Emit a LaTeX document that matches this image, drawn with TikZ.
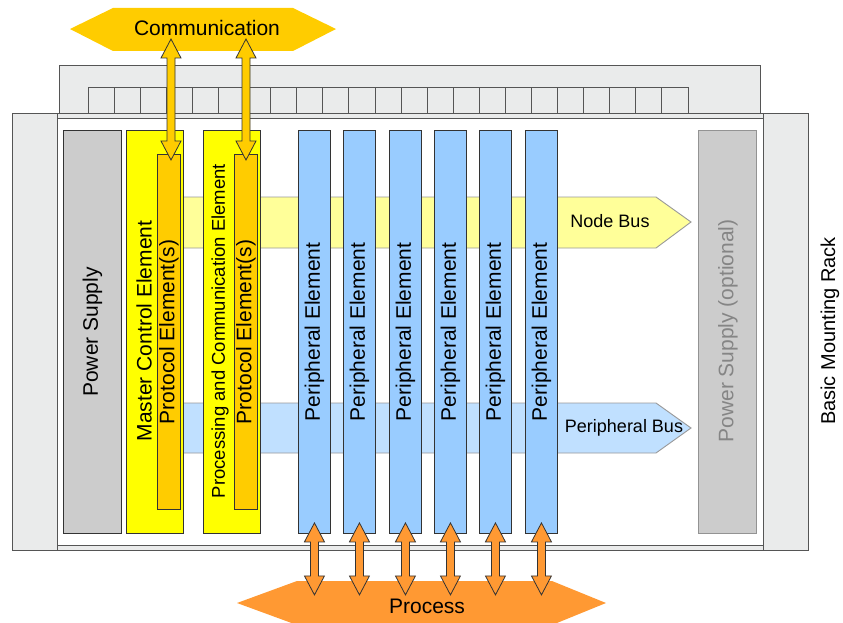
\documentclass[tikz,border=0pt]{standalone}
\usepackage{fontspec}
\setmainfont{Liberation Sans}
\usetikzlibrary{calc}
\definecolor{rackgray}{HTML}{EAEBEB}
\definecolor{psgray}{HTML}{CCCCCC}
\definecolor{ctrlyellow}{HTML}{FFFF00}
\definecolor{protoorange}{HTML}{FFCC00}
\definecolor{nodebusc}{HTML}{FFFF99}
\definecolor{peribusc}{HTML}{C0E0FF}
\definecolor{perielemc}{HTML}{99CCFF}
\definecolor{procorange}{HTML}{FF9933}
\definecolor{edgec}{HTML}{333333}
\definecolor{rackedge}{HTML}{555555}
\definecolor{optgray}{HTML}{858585}
\newcommand\blockarrow[3]{%
  \draw[#3] (#1) -- ($(#1)+(10,19)$) -- ($(#1)+(4,19)$) -- ($(#2)+(4,-19)$) -- ($(#2)+(10,-19)$) -- (#2)
    -- ($(#2)+(-10,-19)$) -- ($(#2)+(-4,-19)$) -- ($(#1)+(-4,19)$) -- ($(#1)+(-10,19)$) -- cycle;}
\begin{document}
\begin{tikzpicture}[x=1pt,y=-1pt,
  rackpart/.style={fill=rackgray,draw=rackedge,line width=0.9pt},
  elem/.style={draw=edgec,line width=0.9pt,inner sep=0pt,anchor=north west},
  vtext/.style={rotate=90,inner sep=0pt,font=\fontsize{21}{24}\selectfont},
  bustext/.style={inner sep=0pt,font=\fontsize{18}{21}\selectfont},
  bigtext/.style={inner sep=0pt,font=\fontsize{21}{24}\selectfont},
  comarrow/.style={fill=protoorange,draw=edgec,line width=0.8pt},
  procarrow/.style={fill=procorange,draw=edgec,line width=0.8pt}]
\useasboundingbox (0,0) rectangle (843,623);
\clip (0,0) rectangle (843,623);

% ---- rack ----
\draw[rackpart] (59,65) rectangle (760,113);
\foreach \i in {0,...,22}{
  \draw[rackpart] ({88+\i*600/23},87) rectangle ({88+(\i+1)*600/23},113);
}
\draw[fill=white,draw=rackedge,line width=0.9pt] (57,113) rectangle (763,550);
\draw[rackpart] (57,113) rectangle (763,118);
\draw[rackpart] (57,545) rectangle (763,550);
\draw[rackpart] (12,113) rectangle (57,550);
\draw[rackpart] (763,113) rectangle (808,550);

% ---- buses ----
\draw[fill=nodebusc,draw=gray!80,line width=0.9pt] (150,197) -- (656,197) -- (691,222) -- (656,248) -- (150,248) -- cycle;
\draw[fill=peribusc,draw=gray!80,line width=0.9pt] (150,403) -- (656,403) -- (691,428) -- (656,453) -- (150,453) -- cycle;
\node[bustext] (nodebus) at (610,221) {Node Bus};
\node[bustext] (peribus) at (624,428) {Peripheral Bus};

% ---- elements ----
\node[elem,fill=psgray,minimum width=58pt,minimum height=403pt] (ps) at (63,130) {};
\node[vtext] at (ps.center) {Power Supply};

\node[elem,fill=ctrlyellow,minimum width=57pt,minimum height=403pt] (mce) at (126,130) {};
\node[vtext] at (144,331) {Master Control Element};
\node[elem,fill=protoorange,minimum width=23pt,minimum height=355pt] (pr1) at (157,154) {};
\node[vtext] at (pr1.center) {Protocol Element(s)};

\node[elem,fill=ctrlyellow,minimum width=57pt,minimum height=403pt] (pce) at (203,130) {};
\node[vtext,font=\fontsize{18.5}{21}\selectfont] at (220,331) {Processing and Communication Element};
\node[elem,fill=protoorange,minimum width=23pt,minimum height=355pt] (pr2) at (234,154) {};
\node[vtext] at (pr2.center) {Protocol Element(s)};

\foreach \x [count=\n] in {298,343,389,434,479,525}{
  \node[elem,fill=perielemc,minimum width=32pt,minimum height=403pt] (pe\n) at (\x,130) {};
  \node[vtext] at (pe\n.center) {Peripheral Element};
}

\node[elem,fill=psgray,draw=gray!85,minimum width=58pt,minimum height=403pt] (pso) at (698,130) {};
\node[vtext,text=optgray] at (728,331) {Power Supply (optional)};

\node[vtext,font=\fontsize{20}{23}\selectfont] (rack) at (830,331) {Basic Mounting Rack};

% ---- communication ----
\fill[protoorange] (70,29) -- (113,8) -- (293,8) -- (336,29) -- (293,51) -- (113,51) -- cycle;
\node[bigtext] (comm) at (207,28) {Communication};
\coordinate (ct1) at (171,39);
\coordinate (cb1) at (171,160);
\coordinate (ct2) at (246,39);
\coordinate (cb2) at (246,160);
\blockarrow{ct1}{cb1}{comarrow}
\blockarrow{ct2}{cb2}{comarrow}

% ---- process ----
\fill[procorange] (237,603) -- (297,581) -- (552,581) -- (606,603) -- (552,625) -- (297,625) -- cycle;
\node[bigtext] (proc) at (427,606) {Process};
\foreach \n in {1,...,6}{
  \coordinate (pt\n) at ($(pe\n.south)+(0,-11)$);
  \coordinate (pb\n) at ($(pe\n.south)+(0,61)$);
  \blockarrow{pt\n}{pb\n}{procarrow}
}
\end{tikzpicture}
\end{document}
